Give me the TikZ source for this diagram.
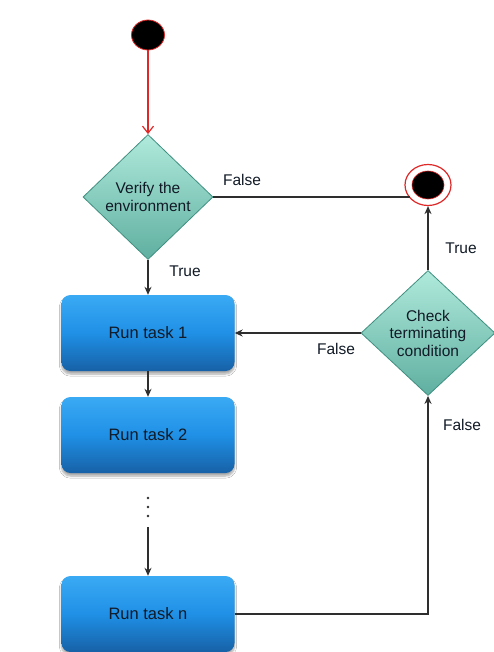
\documentclass[tikz,border=0pt]{standalone}
\usepackage{fontspec}
\setmainfont{Liberation Sans}
\usetikzlibrary{shapes.geometric,arrows.meta,shadows.blur}
\definecolor{dtop}{HTML}{B0EADC}
\definecolor{dbot}{HTML}{5FAFA0}
\definecolor{dedge}{HTML}{3F8F80}
\definecolor{btop}{HTML}{3AAAF4}
\definecolor{bmid}{HTML}{1F90E6}
\definecolor{bbot}{HTML}{1761A6}
\definecolor{flow}{HTML}{2E2E2E}
\definecolor{startred}{HTML}{E02828}
\definecolor{ink}{HTML}{111A26}

\begin{document}
\begin{tikzpicture}[x=1pt,y=-1pt,
  taskbox/.style={rectangle, rounded corners=9pt, minimum width=173pt, minimum height=76pt,
    top color=btop, bottom color=bbot, middle color=bmid, draw=none,
    font=\fontsize{16.5}{19}\selectfont, text=ink,
    blur shadow={shadow xshift=0pt, shadow yshift=-3pt, shadow blur steps=6, shadow opacity=35}},
  decision/.style={diamond, minimum width=#1, minimum height=125pt, inner sep=0pt,
    top color=dtop, bottom color=dbot, draw=dedge, line width=0.8pt},
  dtext/.style={align=center, font=\fontsize{15.5}{17.5}\selectfont, text=ink},
  lbl/.style={font=\fontsize{15.5}{18}\selectfont, text=ink},
  flowline/.style={draw=flow, line width=1.2pt},
  arr/.style={flowline, -{Stealth[length=8pt,width=7pt]}},
  startdot/.style={ellipse, minimum width=33pt, minimum height=30pt, inner sep=0pt,
    fill=black, draw=startred, line width=0.8pt},
  dotmark/.style={circle, fill=flow, inner sep=0pt, minimum size=2.6pt}
]
\useasboundingbox (0,0) rectangle (494,652);
\fill[white] (0,0) rectangle (494,652);

% start and end markers
\node[startdot] (start) at (148,35) {};
\node[ellipse, minimum width=46pt, minimum height=41pt, inner sep=0pt,
  fill=white, draw=startred, line width=1.2pt] (finish) at (428,185) {};
\node[ellipse, minimum width=32pt, minimum height=28pt, inner sep=0pt,
  fill=black, draw=startred, line width=0.6pt] (finishcore) at (finish) {};
\coordinate (fjoin) at (410,197);

% decisions
\node[decision=130pt] (verify) at (148,197) {};
\node[dtext] at (verify) {Verify the\\environment};
\node[decision=134pt] (check) at (428,333) {};
\node[dtext] at (check) {Check\\terminating\\condition};

% tasks
\node[taskbox] (t1) at (148,333) {Run task 1};
\node[taskbox] (t2) at (148,435) {Run task 2};
\node[taskbox] (tn) at (148,614) {Run task n};

% ellipsis between task 2 and task n
\node[dotmark] (d1) at (148,498) {};
\node[dotmark] (d2) at (148,507) {};
\node[dotmark] (d3) at (148,516) {};
\coordinate (gap) at (148,527);

% connectors
\draw[draw=startred, line width=1.2pt, -{Straight Barb[length=7pt,width=11pt]}] (start) -- (verify.north);
\draw[arr] (verify.south) -- (t1.north);
\draw[arr] (t1.south) -- (t2.north);
\draw[arr] (gap) -- (tn.north);
\draw[flowline] (verify.east) -- (fjoin);
\draw[arr] (check.north) -- (finish.south);
\draw[arr] (check.west) -- (t1.east);
\draw[arr] (tn.east) -| (check.south);

% branch labels
\node[lbl] at (242,180) {False};
\node[lbl] at (185,271) {True};
\node[lbl] at (461,248) {True};
\node[lbl] at (336,349) {False};
\node[lbl] at (462,425) {False};
\end{tikzpicture}
\end{document}
